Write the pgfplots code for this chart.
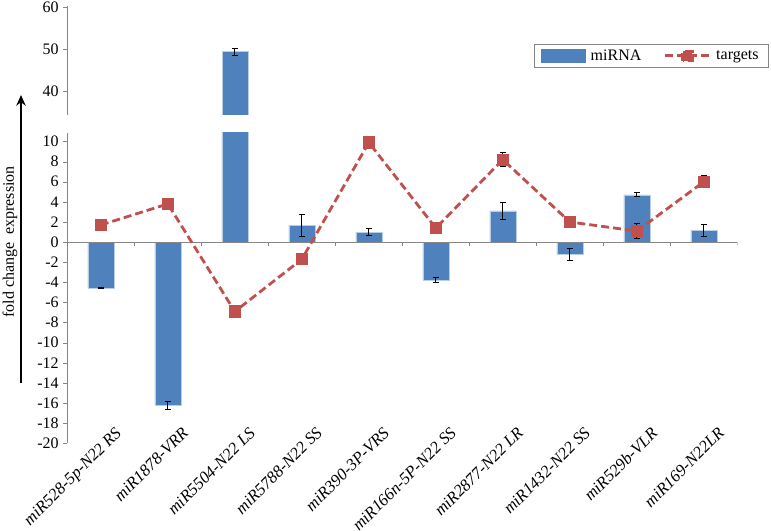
\documentclass[border=0pt]{standalone}
\usepackage{fontspec}
\setmainfont{Liberation Serif}
\usepackage{pgfplots}
\usepackage{pgfplotstable}
\pgfplotsset{compat=1.18}
\usetikzlibrary{arrows.meta}

\definecolor{barblue}{RGB}{79,129,189}
\definecolor{baredge}{RGB}{185,205,229}
\definecolor{tgtred}{RGB}{192,80,77}
\definecolor{axgray}{RGB}{134,134,134}

% index, value, error
\pgfplotstableread{
x y e
0 -4.55 0.08
1 -16.2 0.4
2 49.4 0.8
3 1.7 1.1
4 1.0 0.35
5 -3.75 0.28
6 3.1 0.85
7 -1.2 0.6
8 4.7 0.2
9 1.2 0.6
}\mirna

\pgfplotstableread{
x y e
0 1.7 0.45
1 3.8 0.35
2 -6.9 0.5
3 -1.7 0.35
4 9.9 0.35
5 1.4 0.4
6 8.2 0.7
7 2.0 0.4
8 1.1 0.75
9 6.0 0.6
}\targets

\pgfplotsset{
  brk/.style={
    scale only axis,
    width=502.5pt,
    xmin=-0.5, xmax=9.5,
    axis y line*=left,
    axis x line*=bottom,
    x axis line style={opacity=0},
    y axis line style={axgray},
    ytick style={axgray},
    tick align=outside,
    major tick length=3pt,
    /pgf/number format/assume math mode=true,
    ticklabel style={font=\fontsize{12}{13}\selectfont},
    anchor=south west,
  },
  errs/.style={
    error bars/.cd, y dir=both, y explicit,
    error bar style={black, line width=0.6pt},
    error mark options={rotate=90, mark size=2.2pt, black, line width=0.6pt},
    /pgfplots/.cd,
  },
}

\begin{document}
\begin{tikzpicture}
\useasboundingbox (0,0) rectangle (578.25pt,398.25pt);

% lower part
\begin{axis}[brk,
  at={(50.5pt,65.8pt)},
  height=232.7pt,
  ymin=-20, ymax=10.85,
  ytick={-20,-18,...,10},
  xtick={0,...,9},
  xticklabels={miR528-5p-N22 RS, miR1878-VRR, miR5504-N22 LS, miR5788-N22 SS,
    miR390-3P-VRS, miR166n-5P-N22 SS, miR2877-N22 LR, miR1432-N22 SS,
    miR529b-VLR, miR169-N22LR},
  xtick style={draw=none},
  xticklabel style={xshift=10pt, yshift=16pt, rotate=45, anchor=north east, inner sep=0pt,
    font=\fontsize{12.5}{13}\selectfont\itshape},
  legend columns=2,
  legend style={at={(1.046,1.287)}, anchor=north east, draw=axgray,
    font=\fontsize{12}{13}\selectfont, inner xsep=5pt, inner ysep=2pt,
    /tikz/every odd column/.append style={column sep=2pt},
    /tikz/every even column/.append style={column sep=15pt}},
]
\addplot[ybar, bar width=19.5pt, bar shift=0pt, fill=barblue, draw=baredge,
  errs, legend image code/.code={\fill[barblue] (0pt,-4.5pt) rectangle (33pt,5pt);}]
  table[x=x, y=y, y error=e] {\mirna};
\addlegendentry{miRNA}

\draw[axgray] (axis cs:-0.5,0) -- (axis cs:9.5,0);
\pgfplotsinvokeforeach{-0.5,0.5,1.5,2.5,3.5,4.5,5.5,6.5,7.5,8.5,9.5}{
  \draw[axgray] (axis cs:#1,0) -- ++(0pt,-3pt);
}

\addplot[sharp plot, tgtred, line width=2.1pt, dash pattern=on 6pt off 3pt,
  mark=square*, mark size=3.5pt, mark options={solid, fill=tgtred, draw=tgtred},
  errs, legend image code/.code={
    \draw[tgtred, line width=2.1pt, dash pattern=on 6pt off 3pt] (0pt,0pt) -- (33pt,0pt);
    \fill[tgtred] (13pt,-3.5pt) rectangle (20pt,3.5pt);}]
  table[x=x, y=y, y error=e] {\targets};
\addlegendentry{targets}
\end{axis}

% upper part: only the one bar that reaches this range
\begin{axis}[brk,
  at={(50.5pt,312pt)},
  height=81.6pt,
  ymin=34.2, ymax=60.3,
  ytick={40,50,60},
  xtick=\empty,
  unbounded coords=discard,
]
\addplot[ybar, bar width=19.5pt, bar shift=0pt, fill=barblue, draw=baredge, errs,
  y filter/.expression={y>30 ? y : nan}]
  table[x=x, y=y, y error=e] {\mirna};
\end{axis}

\node[rotate=90, font=\fontsize{12}{13}\selectfont] at (7.5pt,216.75pt) {fold change\ \ expression};
\draw[line width=2pt, -{Stealth[length=8pt,width=7pt]}] (15.75pt,111pt) -- (15.75pt,327pt);
\end{tikzpicture}
\end{document}
